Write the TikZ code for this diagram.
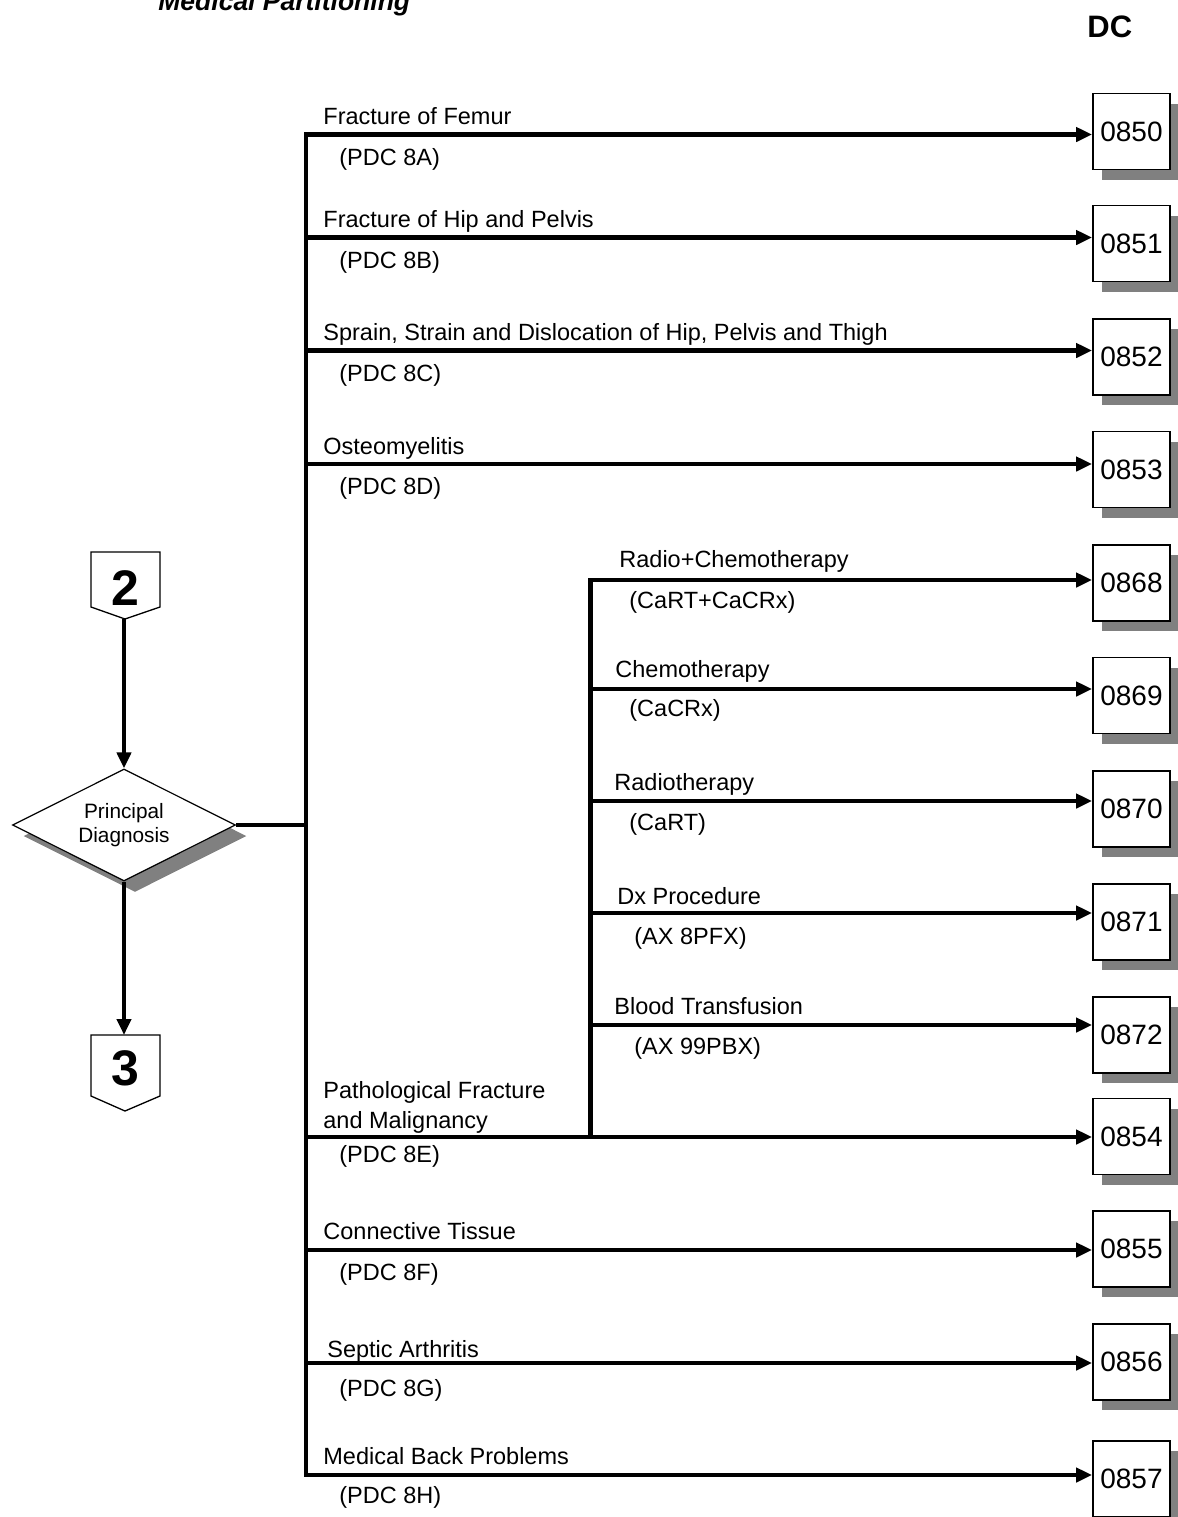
\documentclass[tikz,border=0pt]{standalone}
\usepackage{fontspec}
\setmainfont{Liberation Sans}
\usetikzlibrary{arrows.meta,shapes.geometric,shadows}
\definecolor{shadowgray}{RGB}{128,128,128}
\begin{document}
\begin{tikzpicture}[x=0.5pt,y=-0.5pt,
  lbl/.style={anchor=base west,inner sep=0,font=\fontsize{11.75}{14}\selectfont},
  dcbox/.style={draw,line width=0.85pt,fill=white,minimum width=38.5pt,minimum height=38pt,inner sep=0,
    font=\fontsize{14}{16}\selectfont,
    drop shadow={shadow xshift=4.5pt,shadow yshift=-5pt,fill=shadowgray,opacity=1}},
  flow/.style={line width=2.25pt},
  arr/.style={line width=2.25pt,-{Triangle[length=8pt,width=7pt]}},
  offpage/.style={line width=0.65pt,fill=white},
  offnum/.style={inner sep=0,font=\fontsize{25}{30}\selectfont\bfseries}]
\useasboundingbox (0,0) rectangle (1178,1517);

% titles
\node[anchor=base west,inner sep=0,font=\fontsize{13.25}{16}\selectfont\bfseries\itshape] (title) at (158,10) {Medical Partitioning};
\node[anchor=base west,inner sep=0,font=\fontsize{15.5}{18}\selectfont\bfseries] (dc) at (1087,37) {DC};

% main rows
\foreach \n/\ly/\by in {0850/134.5/131.5,0851/237.5/243.5,0852/350.5/357,0853/464/469.5,0854/1137/1136.5,0855/1250/1249,0856/1363/1362,0857/1475/1479}{
  \node[dcbox] (b\n) at (1131.5,\by) {\n};
  \coordinate (t\n) at (306,\ly);
  \draw[arr] (t\n) -- (t\n -| b\n.west);
}
% sub rows
\foreach \n/\ly/\by in {0868/580/583,0869/689/695.5,0870/801/809,0871/913/922,0872/1025/1035}{
  \node[dcbox] (b\n) at (1131.5,\by) {\n};
  \coordinate (s\n) at (590.5,\ly);
  \draw[arr] (s\n) -- (s\n -| b\n.west);
}
\coordinate (s0854) at (590.5,1137);
\draw[flow,line cap=rect] (t0850) -- (t0857);
\draw[flow,line cap=rect] (s0868) -- (s0854);

% main labels
\node[lbl] (l1) at (323,124) {Fracture of Femur};
\node[lbl] (p1) at (339,165) {(PDC 8A)};
\node[lbl] (l2) at (323,227) {Fracture of Hip and Pelvis};
\node[lbl] (p2) at (339,268) {(PDC 8B)};
\node[lbl] (l3) at (323,340) {Sprain, Strain and Dislocation of Hip, Pelvis and Thigh};
\node[lbl] (p3) at (339,381) {(PDC 8C)};
\node[lbl] (l4) at (323,454) {Osteomyelitis};
\node[lbl] (p4) at (339,494) {(PDC 8D)};
\node[lbl] (l5a) at (323,1098) {Pathological Fracture};
\node[lbl] (l5b) at (323,1128) {and Malignancy};
\node[lbl] (p5) at (339,1162) {(PDC 8E)};
\node[lbl] (l6) at (323,1239) {Connective Tissue};
\node[lbl] (p6) at (339,1280) {(PDC 8F)};
\node[lbl] (l7) at (327,1357) {Septic Arthritis};
\node[lbl] (p7) at (339,1396) {(PDC 8G)};
\node[lbl] (l8) at (323,1464) {Medical Back Problems};
\node[lbl] (p8) at (339,1503) {(PDC 8H)};

% sub labels
\node[lbl] (s1) at (619,567) {Radio+Chemotherapy};
\node[lbl] (q1) at (629,608) {(CaRT+CaCRx)};
\node[lbl] (s2) at (615,677) {Chemotherapy};
\node[lbl] (q2) at (629,716) {(CaCRx)};
\node[lbl] (s3) at (614,790) {Radiotherapy};
\node[lbl] (q3) at (629,830) {(CaRT)};
\node[lbl] (s4) at (617,904) {Dx Procedure};
\node[lbl] (q4) at (634,944) {(AX 8PFX)};
\node[lbl] (s5) at (614,1014) {Blood Transfusion};
\node[lbl] (q5) at (634,1054) {(AX 99PBX)};

% diamond
\node[diamond,draw,line width=0.6pt,fill=white,aspect=2,inner sep=0,
  minimum width=111.5pt,minimum height=56pt,align=center,
  font=\fontsize{10.4}{12}\selectfont,
  drop shadow={shadow xshift=5.5pt,shadow yshift=-5.5pt,fill=shadowgray,opacity=1}]
  (pd) at (124,825) {Principal\\Diagnosis};
\coordinate (tpd) at (306,825);
\draw[flow] (pd.east) -- (tpd);

% off-page connectors
\draw[offpage] (91,552) -- (160,552) -- (160,607) -- (125,619) -- (91,607) -- cycle;
\node[offnum] (c2) at (125.5,588) {2};
\coordinate (c2tip) at (124,619);
\draw[offpage] (91,1035) -- (160,1035) -- (160,1096) -- (125,1111) -- (91,1096) -- cycle;
\node[offnum] (c3) at (125.5,1068) {3};
\coordinate (c3top) at (124,1035);

\draw[arr] (c2tip) -- (pd.north);
\draw[arr] (pd.south) -- (c3top);
\end{tikzpicture}
\end{document}
